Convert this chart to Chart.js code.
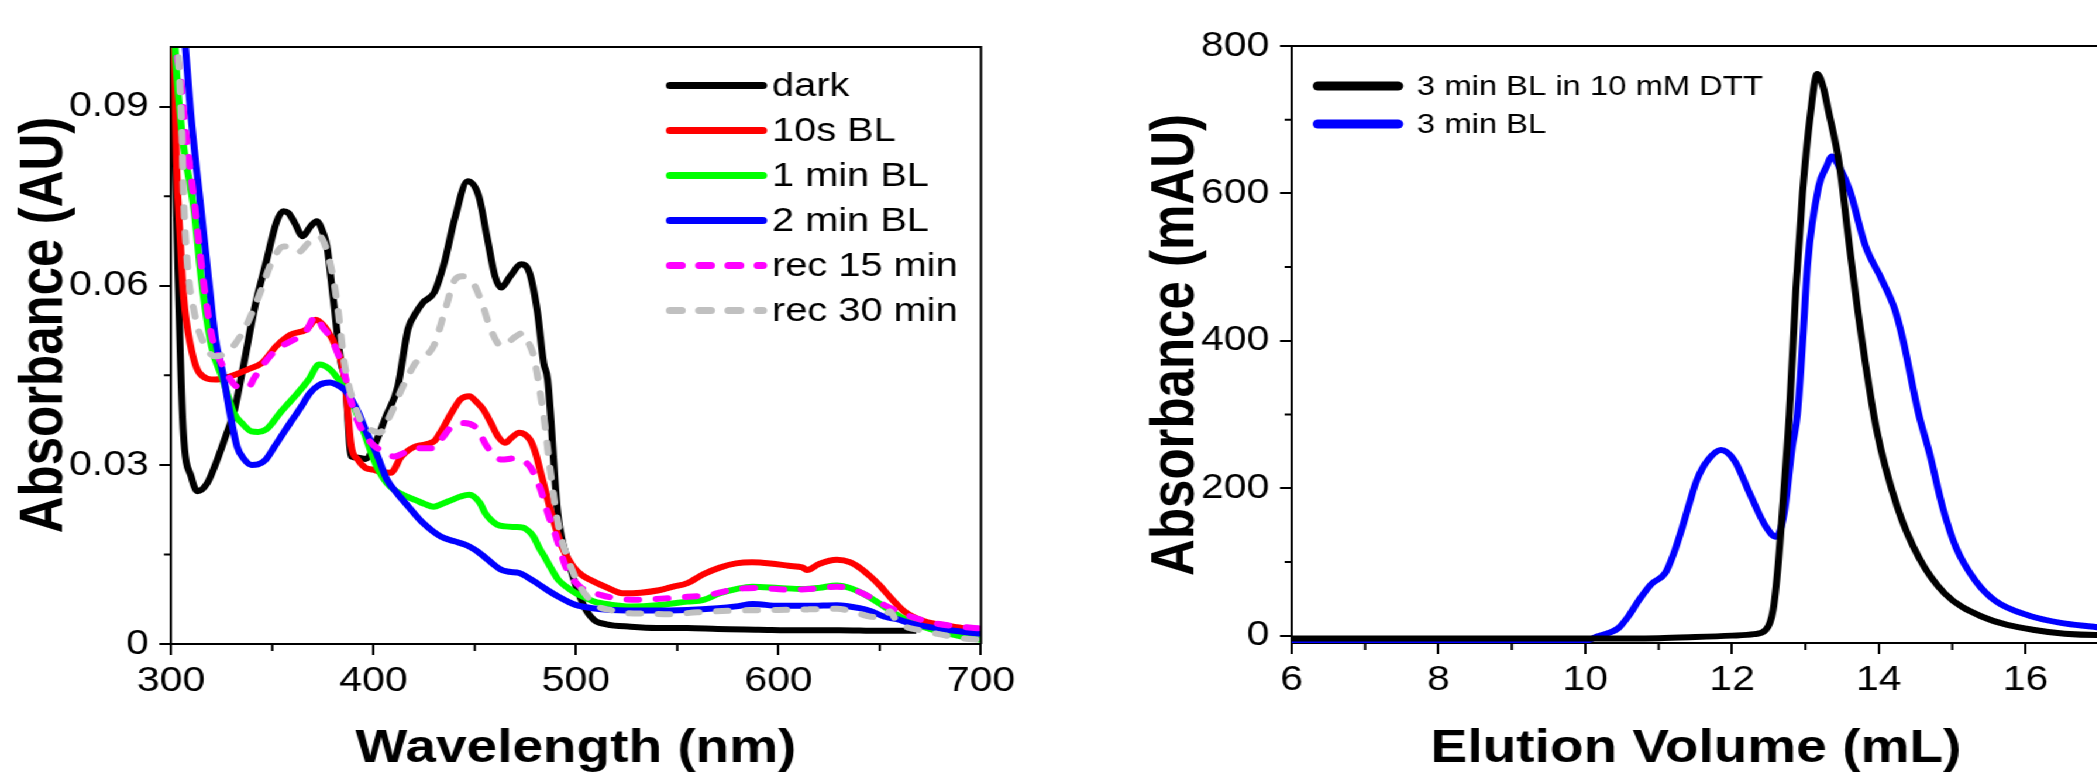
<!DOCTYPE html>
<html>
<head>
<meta charset="utf-8">
<script src="https://cdn.jsdelivr.net/npm/chart.js@4.4.1/dist/chart.umd.min.js"></script>
<style>
  html, body { margin: 0; padding: 0; background: #fff; overflow: hidden; width: 2097px; height: 773px; }
  #wrap { position: absolute; left: 0; top: 0; width: 1810px; height: 773px; transform: scaleX(1.17); transform-origin: 0 0; }
  #wrap canvas { position: absolute; top: 0; }
  #c1 { left: 0; }
  #c2 { left: 950px; }
</style>
</head>
<body>
<div id="wrap">
  <canvas id="c1" width="880" height="773"></canvas>
  <canvas id="c2" width="860" height="773"></canvas>
</div>
<script>
// --- spectra (left) ---
const darkNm = [300,301,303,306,310,313,318,323,327,331,336,341.5,347,352,355.5,358,361,365,369,372,375,377,380,384,386,389,392.5,396,401,406,412,417,421,424.5,430,435,440,446.5,452,456,460,463,467.5,473,477,481,484,486,491,497,504,509,515,527,540,555,570,590,610,630,650,668];
const darkAbs = [0.115,0.1,0.068,0.036,0.028,0.0256,0.027,0.031,0.0348,0.0387,0.047,0.0566,0.064,0.0706,0.0725,0.0722,0.0706,0.0683,0.07,0.0708,0.069,0.0666,0.0582,0.047,0.0443,0.0314,0.0312,0.031,0.0337,0.038,0.0431,0.0527,0.0555,0.0572,0.0589,0.0639,0.0711,0.0775,0.075,0.0683,0.0616,0.0597,0.0616,0.0636,0.0622,0.0555,0.0471,0.0443,0.0219,0.013,0.0063,0.004,0.0033,0.0029,0.0027,0.0027,0.0025,0.0024,0.0023,0.0023,0.0022,0.0022];

const redNm = [300,301.5,302.7,304.5,306.2,309.7,314,322,329,338,345,352,359,367,371.5,376.8,382,385.6,389,392,396,399.7,404,408.5,413.8,420.8,429.7,434,438.5,443,447.3,451,454.4,458,461.4,465,468,472,477.3,480,482.6,487.9,493.1,498.5,503,507.3,515,523,532,541,548,555,563,571,579,587,596,605,612,614,620,628.8,635.4,640,645.4,650,655,662,672,685,700];
const redAbs = [0.115,0.1,0.0807,0.068,0.0582,0.0499,0.0454,0.0443,0.0448,0.046,0.0471,0.0499,0.0518,0.0527,0.0543,0.0527,0.0493,0.0448,0.0331,0.031,0.0295,0.0292,0.0288,0.0287,0.0314,0.0331,0.0339,0.036,0.0387,0.041,0.0415,0.0405,0.0392,0.037,0.0348,0.0337,0.0345,0.0354,0.0342,0.032,0.0287,0.0219,0.0163,0.013,0.0115,0.0107,0.0095,0.0085,0.0086,0.009,0.0096,0.0102,0.0117,0.0128,0.0135,0.0137,0.0135,0.0131,0.0128,0.0124,0.0134,0.0141,0.0137,0.0128,0.0113,0.0098,0.0079,0.0055,0.0038,0.003,0.0022];

const greenNm = [300,302,304.4,306.2,311.5,315,320,325.6,331,335,339.7,343,346.8,350,353.8,358,362.7,368,373.2,378.5,383.8,389,392.5,396,400,403.2,406.5,410.3,415,420.8,425,429.7,434,438.5,443,447.3,452.6,455,457.9,461,465,470,473.8,477,479,482,484.3,488,491.4,496,500,505,509,517,527,540,555,563,571,579,587,600,612,620,628.8,636,642,647,652,657,662,670,678.5,690,700];
const greenAbs = [0.12,0.1,0.089,0.0834,0.0723,0.061,0.0499,0.0443,0.0387,0.037,0.0356,0.0355,0.0359,0.037,0.0387,0.0403,0.0421,0.0443,0.0468,0.046,0.0438,0.0409,0.038,0.0348,0.031,0.0287,0.027,0.0258,0.0249,0.0241,0.0235,0.023,0.0235,0.0241,0.0247,0.025,0.0236,0.022,0.0208,0.02,0.0197,0.0196,0.0195,0.0188,0.018,0.016,0.0147,0.0125,0.0107,0.0094,0.0085,0.0077,0.0071,0.0066,0.0063,0.0065,0.0071,0.0074,0.0085,0.0092,0.0096,0.0094,0.0092,0.0094,0.0098,0.0093,0.0084,0.0074,0.0063,0.0052,0.0042,0.003,0.0022,0.0013,0.0007];

const blueNm = [300,304,307.1,309.7,314.1,318.6,322,325.6,329.1,332.6,336,339.7,343,346.8,351,355.6,360,364.4,368.5,373.2,378.5,382,385.6,389,392.6,396.5,401.4,406.7,411,417.3,424.4,433.2,440,445.6,450,454.4,459,463.2,467,472,476,480.7,486,491.4,496,500.2,508,517.8,535,555,570,579,587.4,600,615,628.8,640,645.4,652,658,665,671.9,685,700];
const blueAbs = [0.125,0.111,0.1,0.089,0.075,0.061,0.051,0.0454,0.0387,0.0331,0.031,0.03,0.0301,0.0309,0.033,0.0354,0.0376,0.0398,0.042,0.0434,0.0438,0.0434,0.0426,0.041,0.0387,0.0355,0.032,0.0275,0.0255,0.023,0.0203,0.018,0.0172,0.0166,0.0158,0.0147,0.0134,0.0124,0.0121,0.0119,0.0112,0.0102,0.009,0.0079,0.0071,0.0065,0.006,0.0057,0.0056,0.0057,0.006,0.0063,0.0067,0.0064,0.0064,0.0065,0.006,0.0055,0.0046,0.0042,0.0035,0.003,0.0023,0.0017];

const rec15Nm = [300,302.5,304.4,307.1,311.5,315.9,320.2,325.6,329,332.6,338,341,344.9,352,359.1,366.2,371.5,375,378.5,382,385.6,389,392.6,398,403.2,410.3,415,420.8,429.7,434,438.5,443.7,450.8,456,463.2,470.2,477.3,480,482.6,486,489.6,494.9,502,512.5,521,530,542,555,565,579,590,605,615,628.8,637,645,653,662,670,678.5,690,700];
const rec15Abs = [0.115,0.1,0.0957,0.0862,0.074,0.061,0.0515,0.0465,0.0445,0.0431,0.0429,0.0445,0.0465,0.0493,0.0507,0.0521,0.0549,0.053,0.0515,0.049,0.0454,0.0405,0.037,0.034,0.0325,0.0314,0.032,0.0328,0.0328,0.0345,0.0364,0.037,0.0362,0.0331,0.0309,0.0311,0.0297,0.028,0.0258,0.022,0.0186,0.013,0.0096,0.0082,0.0076,0.0074,0.0076,0.0079,0.0082,0.0092,0.0094,0.0091,0.0092,0.0096,0.0091,0.0079,0.0064,0.005,0.0041,0.0034,0.0029,0.0026];

const rec30Nm = [300,302.5,303.6,305.3,306.2,308,311.5,316.8,322,329.1,336.2,343.3,350.3,355.6,359,362.7,368,373.2,378.5,382,385.6,388,390.9,394.3,398,403.2,407,410.3,413.8,420.8,429.7,435,440.2,443.7,449.1,453.5,457.9,463.2,470.2,473.8,476.5,479.1,482.6,484.3,487.9,491.4,496.7,502,510.8,517,523.2,535,546,560,579,600,615,628.8,638,645,652,655,658,662,670,678.5,690,700];
const rec30Abs = [0.115,0.105,0.0985,0.0862,0.075,0.0639,0.0555,0.0499,0.0482,0.0493,0.0527,0.0582,0.0644,0.0666,0.0664,0.0656,0.0672,0.0683,0.0639,0.0572,0.0471,0.043,0.0398,0.037,0.036,0.0354,0.0375,0.0398,0.0426,0.0471,0.0499,0.0555,0.061,0.0616,0.0605,0.0572,0.0527,0.0499,0.0515,0.0521,0.0505,0.0482,0.0415,0.0376,0.0275,0.0197,0.0136,0.0096,0.0063,0.0057,0.0052,0.0051,0.005,0.0053,0.0056,0.0057,0.0058,0.0059,0.0053,0.0046,0.0045,0.0055,0.004,0.003,0.0023,0.0017,0.001,0.0007];

const nmTicks = [300, 400, 500, 600, 700];
const nmMinor = [350, 450, 550, 650];
const absTicks = [0, 0.03, 0.06, 0.09];
const absTickLabels = ["0", "0.03", "0.06", "0.09"];
const absMinor = [0.015, 0.045, 0.075];

// --- elution (right) ---
const dttMl = [6,8,10,11,11.5,12,12.3,12.46,12.56,12.63,12.7,12.78,12.87,12.96,13.07,13.16,13.24,13.32,13.46,13.6,13.75,13.97,14.25,14.54,14.9,15.4,16.12,16.97,17];
const dttMau = [-4,-4,-4,-3.5,-2,0,2,7.7,35,98,189,300,470,600,709,762,745,709,641,528,415,279,175,107,57,26,7.7,1,1];
const blMl = [6,8,10,10.16,10.3,10.45,10.6,10.73,10.9,11.09,11.2,11.31,11.42,11.52,11.67,11.85,12.03,12.24,12.46,12.6,12.71,12.82,12.89,12.96,13.03,13.18,13.29,13.36,13.46,13.6,13.82,14.04,14.22,14.33,14.54,14.69,14.87,15.05,15.32,15.59,16.05,16.5,16.93,17];
const blMau = [-8,-8,-7,-1.4,3,10,28,48,70,85,110,143,180,211,238,252,238,193,148,134,166,256,300,395,505,609,637,650,636,605,528,483,442,401,302,248,174,120,74,47,27,17,12,11];

const mlTicks = [6, 8, 10, 12, 14, 16];
const mlMinor = [7, 9, 11, 13, 15];
const mauTicks = [0, 200, 400, 600, 800];
const mauMinor = [100, 300, 500, 700];

const K = 1.17;
const FONT = "'Liberation Sans', Arial, sans-serif";

const pts = (xs, ys) => xs.map((x, i) => ({ x: x, y: ys[i] }));

function line(label, xs, ys, color, width, dash, order) {
  return {
    label: label,
    data: pts(xs, ys),
    borderColor: color,
    borderWidth: width,
    borderDash: dash || [],
    borderCapStyle: dash ? "round" : "butt",
    borderJoinStyle: "round",
    pointRadius: 0,
    cubicInterpolationMode: "monotone",
    fill: false,
    order: order
  };
}

function axis(min, max, ticks, labels, tickLen, pad, size, horizontal) {
  return {
    type: "linear",
    min: min,
    max: max,
    afterBuildTicks: s => { s.ticks = ticks.map(v => ({ value: v })); },
    afterFit: s => { if (horizontal) s.height = 100; else s.width = 110; },
    ticks: {
      color: "#000",
      padding: pad,
      autoSkip: false,
      maxRotation: 0,
      font: { family: FONT, size: size },
      callback: (v, i) => labels[i]
    },
    grid: { drawOnChartArea: false, drawTicks: true, tickLength: tickLen, color: "#000", lineWidth: 2 },
    border: { display: true, color: "#000", width: 2 }
  };
}

const decor = {
  id: "decor",
  afterDraw(chart, args, o) {
    const { ctx, chartArea: a, scales: { x, y } } = chart;
    ctx.save();
    ctx.strokeStyle = "#000";
    ctx.lineWidth = 2;
    ctx.beginPath();
    ctx.moveTo(a.left, a.top);
    ctx.lineTo(a.right, a.top);
    ctx.lineTo(a.right, a.bottom);
    ctx.stroke();

    ctx.beginPath();
    o.minorX.forEach(v => {
      const px = x.getPixelForValue(v);
      ctx.moveTo(px, a.bottom);
      ctx.lineTo(px, a.bottom + 7);
    });
    o.minorY.forEach(v => {
      const py = y.getPixelForValue(v);
      ctx.moveTo(a.left, py);
      ctx.lineTo(a.left - 6, py);
    });
    ctx.stroke();

    ctx.fillStyle = "#000";
    ctx.textAlign = "center";
    ctx.textBaseline = "alphabetic";
    ctx.font = "bold " + o.xTitle.size + "px " + FONT;
    ctx.fillText(o.xTitle.text, o.xTitle.x, o.xTitle.y);
    ctx.save();
    ctx.translate(o.yTitle.x, o.yTitle.y);
    ctx.rotate(-Math.PI / 2);
    ctx.textBaseline = "middle";
    ctx.font = "bold " + o.yTitle.size + "px " + FONT;
    ctx.fillText(o.yTitle.text, 0, 0);
    ctx.restore();

    const L = o.legend;
    chart.data.datasets.forEach((ds, i) => {
      const yy = L.y + i * L.dy;
      ctx.strokeStyle = ds.borderColor;
      ctx.lineWidth = L.lw;
      ctx.lineCap = "round";
      ctx.setLineDash(ds.borderDash || []);
      ctx.beginPath();
      ctx.moveTo(L.x0, yy);
      ctx.lineTo(L.x1, yy);
      ctx.stroke();
      ctx.setLineDash([]);
      ctx.fillStyle = "#000";
      ctx.textAlign = "left";
      ctx.textBaseline = "middle";
      ctx.font = L.size + "px " + FONT;
      ctx.fillText(ds.label, L.tx, yy + 1);
    });
    ctx.restore();
  }
};

const DASH = [10, 15];

new Chart(document.getElementById("c1"), {
  type: "line",
  data: {
    datasets: [
      line("dark", darkNm, darkAbs, "#000000", 6, null, 10),
      line("10s BL", redNm, redAbs, "#ff0000", 6, null, 9),
      line("1 min BL", greenNm, greenAbs, "#00ff00", 6, null, 8),
      line("2 min BL", blueNm, blueAbs, "#0000ff", 6, null, 7),
      line("rec 15 min", rec15Nm, rec15Abs, "#ff00ff", 6, DASH, 6),
      line("rec 30 min", rec30Nm, rec30Abs, "#c0c0c0", 6, DASH, 5)
    ]
  },
  options: {
    responsive: false,
    animation: false,
    events: [],
    layout: { padding: { left: 171 / K - 110, right: 880 - 981 / K, top: 47, bottom: 773 - 644 - 100 } },
    scales: {
      x: axis(300, 700, nmTicks, nmTicks.map(String), 11, 5, 35, true),
      y: axis(0, 0.1, absTicks, absTickLabels, 10, 9, 35, false)
    },
    plugins: {
      legend: { display: false },
      tooltip: { enabled: false },
      decor: {
        minorX: nmMinor,
        minorY: absMinor,
        xTitle: { text: "Wavelength (nm)", x: 576 / K, y: 762, size: 47 },
        yTitle: { text: "Absorbance (AU)", x: 45 / K, y: 325, size: 51 },
        legend: { x0: 670 / K, x1: 763 / K, tx: 772 / K, y: 85.5, dy: 45, size: 34, lw: 7 }
      }
    }
  },
  plugins: [decor]
});

const OFF = 950;
new Chart(document.getElementById("c2"), {
  type: "line",
  data: {
    datasets: [
      line("3 min BL in 10 mM DTT", dttMl, dttMau, "#000000", 6, null, 1),
      line("3 min BL", blMl, blMau, "#0000ff", 6, null, 2)
    ]
  },
  options: {
    responsive: false,
    animation: false,
    events: [],
    layout: { padding: { left: 1291.7 / K - OFF - 110, right: 860 - (2099 / K - OFF), top: 46, bottom: 773 - 643 - 100 } },
    scales: {
      x: axis(6, 17, mlTicks, mlTicks.map(String), 11, 5, 35, true),
      y: axis(-10, 800, mauTicks, mauTicks.map(String), 10, 9, 35, false)
    },
    plugins: {
      legend: { display: false },
      tooltip: { enabled: false },
      decor: {
        minorX: mlMinor,
        minorY: mauMinor,
        xTitle: { text: "Elution Volume (mL)", x: 1696 / K - OFF, y: 762, size: 47 },
        yTitle: { text: "Absorbance (mAU)", x: 1177 / K - OFF, y: 345, size: 51 },
        legend: { x0: 1318 / K - OFF, x1: 1398 / K - OFF, tx: 1417 / K - OFF, y: 86, dy: 38, size: 28, lw: 9 }
      }
    }
  },
  plugins: [decor]
});
</script>
</body>
</html>
